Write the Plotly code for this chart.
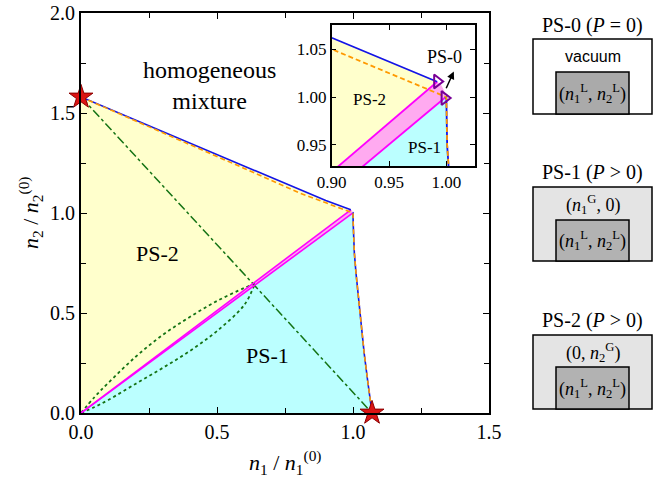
import plotly.graph_objects as go

W, H = 667, 479

# --- data ---
star_x = [0.0, 1.07]
star_y = [1.58, 0.0]

# upper boundary, solid blue
blue_top_x = [0.0, 0.2, 0.4, 0.6, 0.8, 0.9, 0.992]
blue_top_y = [1.58, 1.465, 1.35, 1.235, 1.118, 1.062, 1.016]

# upper boundary, dashed orange
orange_top_x = [0.0, 0.2, 0.4, 0.6, 0.8, 0.9, 0.95, 1.0]
orange_top_y = [1.58, 1.462, 1.343, 1.223, 1.102, 1.05, 1.025, 1.0]

# right boundary (blue and orange on top of each other)
right_x = [1.0, 1.0007, 1.0015, 1.005, 1.011, 1.02, 1.03, 1.041, 1.055, 1.07]
right_y = [1.0, 0.95, 0.9, 0.8, 0.7, 0.57, 0.43, 0.3, 0.15, 0.0]

# magenta lines from the origin
mag_up_x = [0.0, 0.992]
mag_up_y = [0.0, 1.016]
mag_lo_x = [0.0, 0.9985]
mag_lo_y = [0.0, 0.999]

# small PS-0 corner between the two magenta ends
corner_x = [0.992, 0.9955, 0.998, 0.999, 0.9985]
corner_y = [1.016, 1.0125, 1.007, 1.002, 0.999]

# green dotted curves
dot_up_x = [0.0, 0.05, 0.1, 0.2, 0.3, 0.4, 0.5, 0.6, 0.64]
dot_up_y = [0.0, 0.08, 0.15, 0.28, 0.39, 0.48, 0.56, 0.625, 0.648]
dot_lo_x = [0.0, 0.05, 0.1, 0.2, 0.3, 0.4, 0.5, 0.6, 0.64]
dot_lo_y = [0.0, 0.03, 0.065, 0.145, 0.225, 0.31, 0.41, 0.54, 0.648]

# triangle markers in the inset
tri_x = [0.992, 0.9985]
tri_y = [1.0163, 0.999]

YELLOW = "rgb(255,255,204)"
CYAN = "rgb(187,255,255)"
PINK = "rgb(255,170,240)"
MAGENTA = "rgb(255,0,255)"
BLUE = "rgb(20,20,230)"
ORANGE = "rgb(255,153,0)"
GREEN = "rgb(20,115,20)"
SERIF = "Liberation Serif"
SANS = "Liberation Sans"

fig = go.Figure()


def add_diagram(xa, ya, lw):
    # fills
    fig.add_trace(go.Scatter(
        x=[0.0] + blue_top_x + mag_up_x[::-1],
        y=[0.0] + blue_top_y + mag_up_y[::-1],
        fill="toself", fillcolor=YELLOW, mode="none", xaxis=xa, yaxis=ya))
    fig.add_trace(go.Scatter(
        x=right_x[::-1] + mag_lo_x[::-1] + [0.0],
        y=right_y[::-1] + mag_lo_y[::-1] + [0.0],
        fill="toself", fillcolor=CYAN, mode="none", xaxis=xa, yaxis=ya))
    fig.add_trace(go.Scatter(
        x=[0.0] + corner_x + [0.0],
        y=[0.0] + corner_y + [0.0],
        fill="toself", fillcolor=PINK, mode="none", xaxis=xa, yaxis=ya))
    # green guide lines
    fig.add_trace(go.Scatter(x=star_x, y=star_y, mode="lines",
                             line=dict(color=GREEN, width=1.5, dash="dashdot"),
                             xaxis=xa, yaxis=ya))
    for dx, dy in [(dot_up_x, dot_up_y), (dot_lo_x, dot_lo_y)]:
        fig.add_trace(go.Scatter(x=dx, y=dy, mode="lines", line_shape="spline",
                                 line=dict(color=GREEN, width=1.8, dash="dot"),
                                 xaxis=xa, yaxis=ya))
    # magenta
    for mx, my in [(mag_up_x, mag_up_y), (mag_lo_x, mag_lo_y)]:
        fig.add_trace(go.Scatter(x=mx, y=my, mode="lines",
                                 line=dict(color=MAGENTA, width=lw),
                                 xaxis=xa, yaxis=ya))
    # boundaries
    fig.add_trace(go.Scatter(x=blue_top_x, y=blue_top_y, mode="lines",
                             line=dict(color=BLUE, width=lw), xaxis=xa, yaxis=ya))
    fig.add_trace(go.Scatter(x=[tri_x[1]] + right_x, y=[tri_y[1]] + right_y, mode="lines",
                             line=dict(color=BLUE, width=lw), xaxis=xa, yaxis=ya))
    fig.add_trace(go.Scatter(x=orange_top_x + right_x[1:], y=orange_top_y + right_y[1:],
                             mode="lines",
                             line=dict(color=ORANGE, width=lw, dash="5px,3px"),
                             xaxis=xa, yaxis=ya))


add_diagram("x", "y", 1.6)
add_diagram("x2", "y2", 1.8)

fig.add_trace(go.Scatter(x=star_x, y=star_y, mode="markers", cliponaxis=False,
                         marker=dict(symbol="star", size=18, color="rgb(220,20,20)",
                                     line=dict(color="rgb(140,0,0)", width=1))))
fig.add_trace(go.Scatter(x=tri_x, y=tri_y, mode="markers", xaxis="x2", yaxis="y2",
                         cliponaxis=False,
                         marker=dict(symbol="triangle-right-open", size=12,
                                     color="rgb(120,0,150)", line=dict(width=2))))


def px(x):
    return x / W


def py(y):
    return 1 - y / H


axis_common = dict(showline=True, linecolor="black", mirror="ticks", ticks="inside",
                   showgrid=False, zeroline=False, tickcolor="black", automargin=False,
                   tickfont=dict(family=SERIF, size=20, color="black"))
inset_font = dict(family=SERIF, size=17, color="black")

fig.update_layout(
    width=W, height=H, autosize=False, showlegend=False,
    margin=dict(l=0, r=0, t=0, b=0),
    font=dict(family=SERIF, color="black"),
    paper_bgcolor="white", plot_bgcolor="white",
    xaxis=dict(domain=[px(81), px(489)], range=[0, 1.5], dtick=0.5, tickformat=".1f",
               linewidth=2, ticklen=6,
               minor=dict(dtick=0.25, ticks="inside", ticklen=5, tickcolor="black"),
               **axis_common),
    yaxis=dict(domain=[py(413), py(13)], range=[0, 2], dtick=0.5, tickformat=".1f",
               linewidth=2, ticklen=6,
               minor=dict(dtick=0.25, ticks="inside", ticklen=5, tickcolor="black"),
               **axis_common),
    xaxis2=dict(domain=[px(331.7), px(475)], range=[0.9, 1.025], anchor="y2",
                tickvals=[0.90, 0.95, 1.00], tickformat=".2f", linewidth=1.5, ticklen=5,
                **{**axis_common, "tickfont": inset_font}),
    yaxis2=dict(domain=[py(166), py(25)], range=[0.928, 1.0753], anchor="x2",
                tickvals=[0.95, 1.00, 1.05], tickformat=".2f", linewidth=1.5, ticklen=5,
                **{**axis_common, "tickfont": inset_font}),
)

# axis titles
fig.add_annotation(x=px(285), y=py(462), xref="paper", yref="paper", showarrow=False,
                   text="<i>n</i><sub>1</sub> / <i>n</i><sub>1</sub><sup>(0)</sup>",
                   xanchor="center", yanchor="middle",
                   font=dict(family=SERIF, size=22, color="black"))
fig.add_annotation(x=px(30), y=py(213), xref="paper", yref="paper", showarrow=False,
                   text="<i>n</i><sub>2</sub> / <i>n</i><sub>2</sub><sup>(0)</sup>",
                   textangle=-90, xanchor="center", yanchor="middle",
                   font=dict(family=SERIF, size=22, color="black"))

# labels on the diagram
fig.add_annotation(x=0.474, y=1.64, text="homogeneous<br>mixture", showarrow=False,
                   font=dict(family=SERIF, size=24, color="black"))
fig.add_annotation(x=0.28, y=0.80, text="PS-2", showarrow=False,
                   font=dict(family=SERIF, size=22, color="black"))
fig.add_annotation(x=0.684, y=0.29, text="PS-1", showarrow=False,
                   font=dict(family=SERIF, size=22, color="black"))
fig.add_annotation(x=0.933, y=0.997, xref="x2", yref="y2", text="PS-2", showarrow=False,
                   font=inset_font)
fig.add_annotation(x=0.9806, y=0.947, xref="x2", yref="y2", text="PS-1", showarrow=False,
                   font=inset_font)
fig.add_annotation(x=0.998, y=1.042, xref="x2", yref="y2", text="PS-0", showarrow=False,
                   font=dict(family=SERIF, size=18, color="black"))
fig.add_annotation(x=1.0065, y=1.0267, ax=0.9993, ay=1.0076, xref="x2", yref="y2",
                   axref="x2", ayref="y2", text="", showarrow=True, arrowhead=2,
                   arrowsize=1, arrowwidth=1.5, arrowcolor="black")

# schematic boxes on the right
boxes = [
    ("PS-0 (<i>P</i> = 0)", "vacuum", 25, 39, 114, 72, "white", "rgb(170,170,170)"),
    ("PS-1 (<i>P</i> > 0)", "(<i>n</i><sub>1</sub><sup>G</sup>, 0)", 172, 187, 261, 220,
     "rgb(228,228,228)", "rgb(178,178,178)"),
    ("PS-2 (<i>P</i> > 0)", "(0, <i>n</i><sub>2</sub><sup>G</sup>)", 320, 335, 409, 367,
     "rgb(228,228,228)", "rgb(178,178,178)"),
]
inner_txt = "(<i>n</i><sub>1</sub><sup>L</sup>, <i>n</i><sub>2</sub><sup>L</sup>)"
for title, outer_txt, ty, y0, y1, yi, c_out, c_in in boxes:
    fig.add_shape(type="rect", xref="paper", yref="paper",
                  x0=px(533), x1=px(652), y0=py(y1), y1=py(y0),
                  fillcolor=c_out, line=dict(color="black", width=1.5))
    fig.add_shape(type="rect", xref="paper", yref="paper",
                  x0=px(556), x1=px(629), y0=py(y1), y1=py(yi),
                  fillcolor=c_in, line=dict(color="black", width=1.5))
    fig.add_annotation(x=px(592.5), y=py(ty), xref="paper", yref="paper", text=title,
                       xanchor="center", yanchor="middle",
                       showarrow=False, font=dict(family=SERIF, size=20, color="black"))
    is_vac = outer_txt == "vacuum"
    fig.add_annotation(x=px(592.5), y=py((y0 + yi) / 2 + 1), xref="paper", yref="paper",
                       text=outer_txt, showarrow=False, xanchor="center", yanchor="middle",
                       font=dict(family=SANS if is_vac else SERIF,
                                 size=16 if is_vac else 18, color="black"))
    fig.add_annotation(x=px(592.5), y=py((yi + y1) / 2), xref="paper", yref="paper",
                       text=inner_txt, showarrow=False, xanchor="center", yanchor="middle",
                       font=dict(family=SERIF, size=18, color="black"))

fig.write_html("out.html", config={"displayModeBar": False},
               post_script="document.body.style.margin = '0px';")
